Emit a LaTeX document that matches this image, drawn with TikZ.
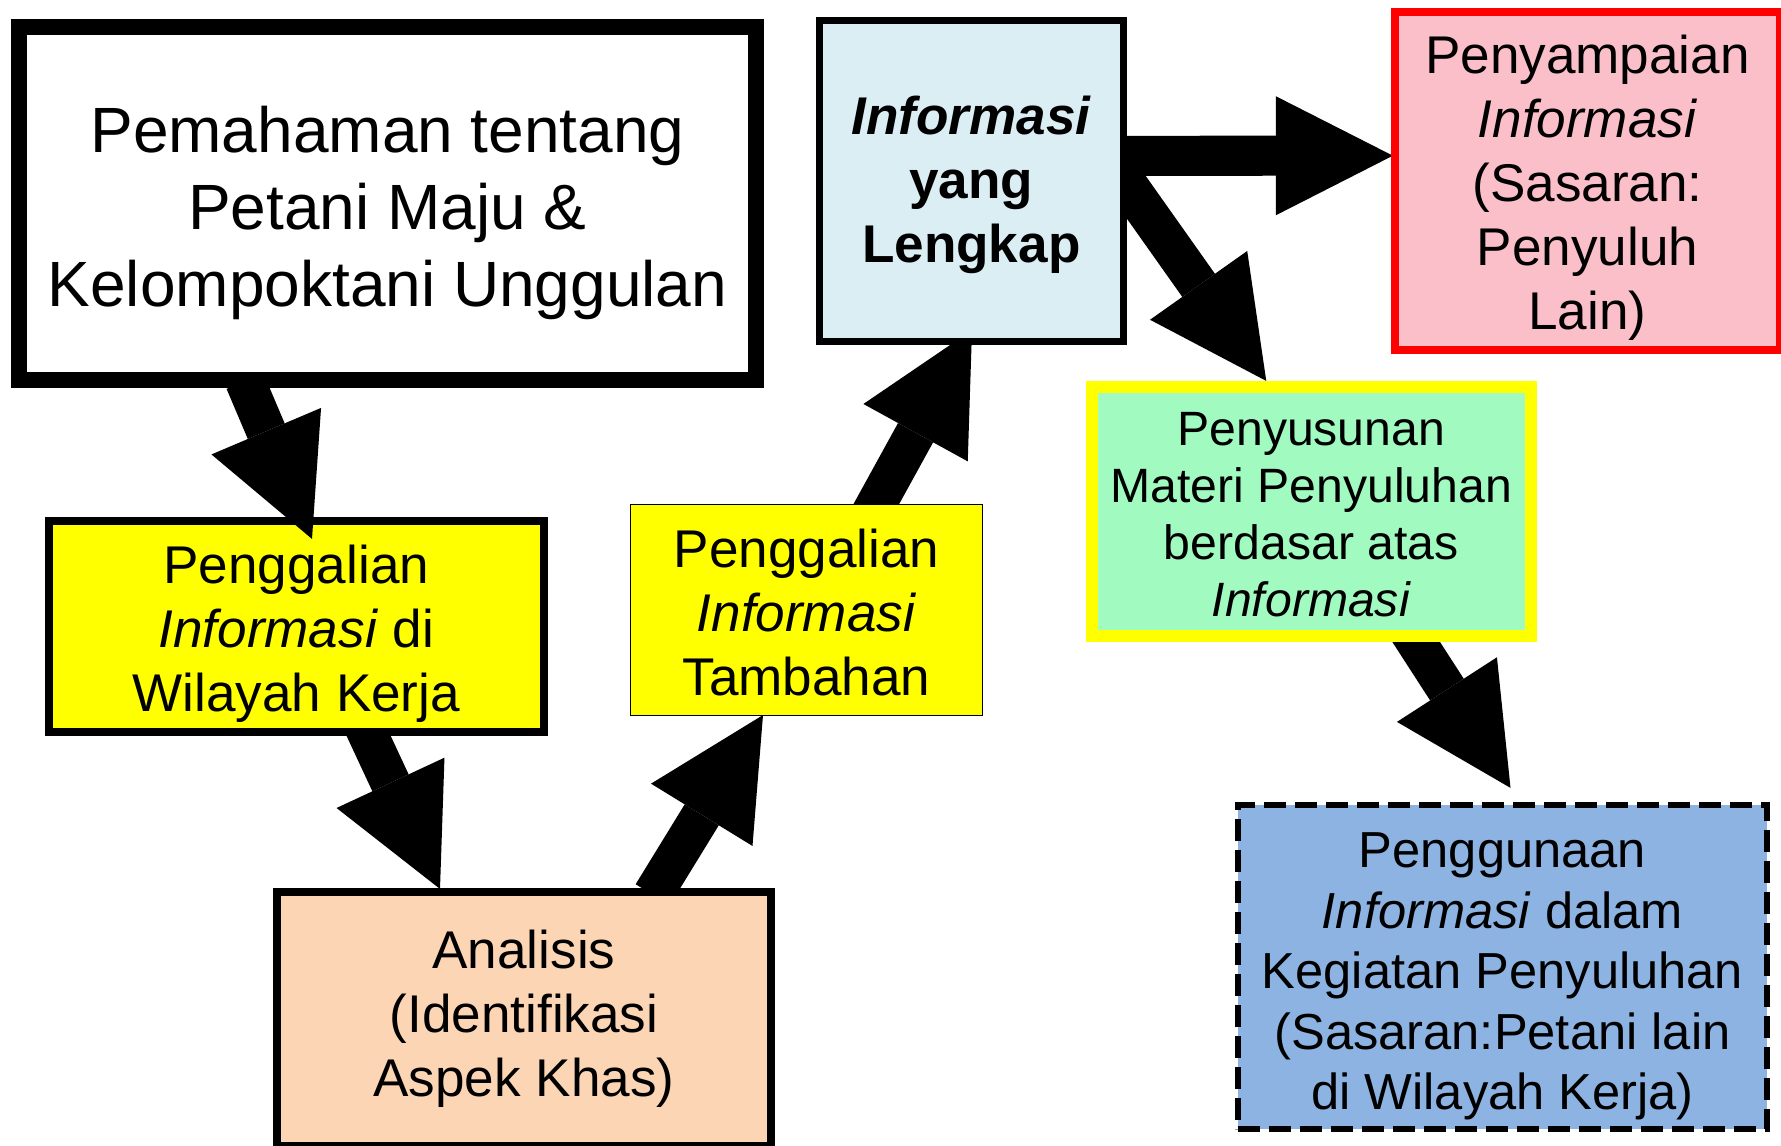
\documentclass[tikz,border=0pt]{standalone}
\usepackage{fontspec}
\setmainfont{Liberation Sans}
\usetikzlibrary{arrows.meta,calc}

\pgfdeclarelayer{background}
\pgfsetlayers{background,main}

\definecolor{kuning}{HTML}{FFFF00}
\definecolor{persik}{HTML}{FCD5B5}
\definecolor{birumuda}{HTML}{DBEEF4}
\definecolor{merahmuda}{HTML}{FBBFC9}
\definecolor{hijaumuda}{HTML}{A1FABF}
\definecolor{birutua}{HTML}{8DB3E2}

\newcommand{\hurufA}{\fontsize{18.2pt}{21.9pt}\selectfont}
\newcommand{\hurufB}{\fontsize{15.1pt}{18.2pt}\selectfont}
\newcommand{\hurufC}{\fontsize{13.7pt}{16.2pt}\selectfont}
\newcommand{\hurufD}{\fontsize{14.4pt}{17.2pt}\selectfont}
% tinggi baris pertama (menggeser teks ke bawah)
\newcommand{\atas}[1]{\rule{0pt}{#1}}

\begin{document}
\begin{tikzpicture}[x=0.01cm,y=-0.01cm,
	kotak/.style={rectangle,draw=black,align=center,inner sep=0pt},
	panah/.style={line width=0.4cm,-{Triangle[length=1.17cm,width=1.19cm,line width=0pt]}}]
	
	\useasboundingbox (0,0) rectangle (1781,1146);
	
	% kotak kiri
	\node[kotak,line width=0.16cm,fill=white,minimum width=7.37cm,minimum height=3.52cm,font=\hurufA] (pemahaman) at (387.5,203.5) {\atas{18.4pt}Pemahaman tentang\\Petani Maju \&\\Kelompoktani Unggulan};
	
	\node[kotak,line width=0.08cm,fill=kuning,minimum width=4.95cm,minimum height=2.11cm,font=\hurufB] (wilayah) at (296.3,626.5) {\atas{15.3pt}Penggalian\\\textit{Informasi} di\\Wilayah Kerja};
	
	\node[kotak,line width=0.015cm,fill=kuning,minimum width=3.515cm,minimum height=2.105cm,font=\hurufB] (tambahan) at (806.5,610) {\atas{12.1pt}Penggalian\\\textit{Informasi}\\Tambahan};
	
	\node[kotak,line width=0.08cm,fill=persik,minimum width=4.94cm,minimum height=2.54cm,font=\hurufB] (analisis) at (524,1019) {Analisis\\(Identifikasi\\Aspek Khas)};
	
	% kotak kanan
	\node[kotak,line width=0.07cm,fill=birumuda,minimum width=3.04cm,minimum height=3.21cm,font=\hurufB\bfseries] (lengkap) at (971.3,181) {\atas{13.3pt}\textit{Informasi}\\yang\\Lengkap};
	
	\node[kotak,draw=red,line width=0.08cm,fill=merahmuda,minimum width=3.85cm,minimum height=3.37cm,font=\hurufB] (penyampaian) at (1587.5,181) {\atas{14.7pt}Penyampaian\\\textit{Informasi}\\(Sasaran:\\Penyuluh\\Lain)};
	
	\node[kotak,draw=kuning,line width=0.12cm,fill=hijaumuda,minimum width=4.385cm,minimum height=2.49cm,font=\hurufC] (penyusunan) at (1311.25,511.5) {\atas{11.1pt}Penyusunan\\Materi Penyuluhan\\berdasar atas\\\textit{Informasi}};
	
	\node[kotak,line width=0.06cm,dash pattern=on 0.22cm off 0.09cm,fill=birutua,minimum width=5.29cm,minimum height=3.235cm,font=\hurufD] (penggunaan) at (1502.5,967.25) {\atas{15.1pt}Penggunaan\\\textit{Informasi} dalam\\Kegiatan Penyuluhan\\(Sasaran:Petani lain\\di Wilayah Kerja)};
	
	% panah di belakang kotak
	\begin{pgfonlayer}{background}
		\draw[panah] ($(wilayah.south)+(64,-18)$) -- ($(analisis.north)+(-84,1)$);
		\draw[panah] ($(analisis.north)+(128.7,6.8)$) -- ($(tambahan.south)+(-43.5,-1)$);
		\draw[panah] ($(tambahan.north)+(61.8,14.7)$) -- ($(lengkap.south)+(0.7,-15)$);
		\draw[panah] ($(lengkap.east)+(-17,-25.2)$) -- ($(penyampaian.west)+(2,-25.3)$);
		\draw[panah] ($(lengkap.east)+(-17,-21)$) -- ($(penyusunan.north)+(-45,0)$);
		\draw[panah] ($(penyusunan.south)+(90.75,-22)$) -- ($(penggunaan.north)+(8,-14.5)$);
	\end{pgfonlayer}
	
	% panah di depan
	\draw[panah] ($(pemahaman.south)+(-142.5,-6.5)$) -- ($(wilayah.north)+(15.7,22)$);
	
\end{tikzpicture}
\end{document}
